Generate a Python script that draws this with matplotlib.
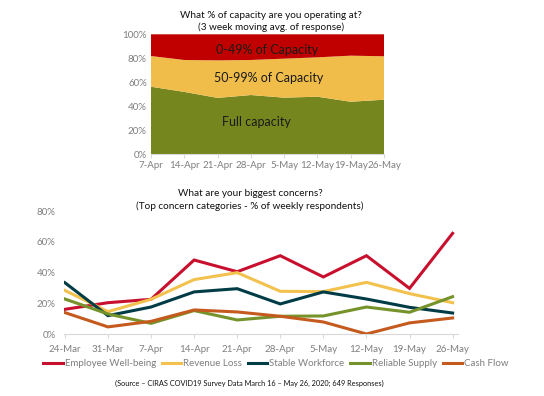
import matplotlib
matplotlib.use("Agg")
import matplotlib.pyplot as plt
from matplotlib.ticker import PercentFormatter
from matplotlib.lines import Line2D

plt.rcParams['font.family'] = ['Lato', 'DejaVu Sans']

# ---- Top chart data ----
cap_dates = ["7-Apr", "14-Apr", "21-Apr", "28-Apr", "5-May", "12-May", "19-May", "26-May"]
full_capacity = [56.3, 52.0, 47.0, 49.4, 47.2, 48.0, 43.8, 45.5]
cap_50_99 = [25.6, 26.6, 31.3, 29.2, 32.5, 32.8, 38.4, 36.2]
cap_0_49 = [18.1, 21.4, 21.7, 21.4, 20.3, 19.2, 17.8, 18.3]

# ---- Bottom chart data ----
concern_dates = ["24-Mar", "31-Mar", "7-Apr", "14-Apr", "21-Apr", "28-Apr", "5-May", "12-May", "19-May", "26-May"]
employee_wellbeing = [16.2, 20.5, 22.7, 48.2, 40.6, 51.0, 37.2, 51.0, 29.8, 65.5]
revenue_loss = [28.5, 14.7, 22.7, 35.5, 40.0, 27.9, 27.7, 33.7, 26.4, 20.5]
stable_workforce = [33.5, 12.1, 17.7, 27.5, 29.6, 19.7, 27.5, 22.9, 17.5, 13.8]
reliable_supply = [22.9, 13.2, 7.1, 15.4, 9.3, 11.7, 11.9, 17.7, 14.3, 24.4]
cash_flow = [14.1, 4.8, 8.4, 15.8, 14.5, 11.7, 8.0, 0.2, 7.4, 10.6]
series_names = ["Employee Well-being", "Revenue Loss", "Stable Workforce", "Reliable Supply", "Cash Flow"]

W, H = 544, 396
fig = plt.figure(figsize=(W / 100, H / 100), dpi=100)

tick_color = "#7f7f7f"
axis_color = "#d9d9d9"

# Top axes
ax1 = fig.add_axes([151 / W, 1 - 154.3 / H, (384 - 151) / W, (154.3 - 34.3) / H])
x1 = list(range(len(cap_dates)))
ax1.stackplot(x1, full_capacity, cap_50_99, cap_0_49,
              colors=["#76861f", "#f0bd4b", "#c00000"], linewidth=0)
ax1.set_xlim(0, len(cap_dates) - 1)
ax1.set_ylim(0, 100)
ax1.set_yticks([0, 20, 40, 60, 80, 100])
ax1.yaxis.set_major_formatter(PercentFormatter(decimals=0))
ax1.set_xticks(x1)
ax1.set_xticklabels(cap_dates)
for s in ["top", "right", "left"]:
    ax1.spines[s].set_visible(False)
ax1.spines["bottom"].set_color(axis_color)
ax1.tick_params(axis="y", length=0, labelsize=7, colors=tick_color, pad=3)
ax1.tick_params(axis="x", length=3, labelsize=7, colors=tick_color, color=axis_color, pad=2)
ax1.text(267.5 / W, 1 - 49.5 / H, "0-49% of Capacity", transform=fig.transFigure,
         ha="center", va="center", fontsize=9, color="#1a1a1a")
ax1.text(268.8 / W, 1 - 77.5 / H, "50-99% of Capacity", transform=fig.transFigure,
         ha="center", va="center", fontsize=9, color="#1a1a1a")
ax1.text(256.7 / W, 1 - 121.5 / H, "Full capacity", transform=fig.transFigure,
         ha="center", va="center", fontsize=9, color="#1a1a1a")
fig.text(271 / W, 1 - 15 / H, "What % of capacity are you operating at?",
         ha="center", va="center", fontsize=7.2, color="#111111")
fig.text(271 / W, 1 - 27.5 / H, "(3 week moving avg. of response)",
         ha="center", va="center", fontsize=7.2, color="#111111")

# Bottom axes
ax2 = fig.add_axes([64 / W, 1 - 334.3 / H, (458.2 - 64) / W, (334.3 - 211) / H])
x2 = list(range(len(concern_dates)))
colors = ["#c8102e", "#f2c14e", "#003c46", "#76922a", "#c55a1f"]
data = [employee_wellbeing, revenue_loss, stable_workforce, reliable_supply, cash_flow]
for vals, c, name in zip(data, colors, series_names):
    ax2.plot(x2, vals, color=c, linewidth=2.2, label=name, solid_joinstyle="miter")
ax2.set_xlim(-0.02, 9.13)
ax2.set_ylim(0, 80)
ax2.set_yticks([0, 20, 40, 60, 80])
ax2.yaxis.set_major_formatter(PercentFormatter(decimals=0))
ax2.set_xticks(x2)
ax2.set_xticklabels(concern_dates)
for s in ["top", "right", "left"]:
    ax2.spines[s].set_visible(False)
ax2.spines["bottom"].set_color(axis_color)
ax2.tick_params(axis="y", length=0, labelsize=7, colors=tick_color, pad=6)
ax2.tick_params(axis="x", length=3, labelsize=7, colors=tick_color, color=axis_color, pad=5)
fig.text(250 / W, 1 - 193.5 / H, "What are your biggest concerns?",
         ha="center", va="center", fontsize=7.2, color="#111111")
fig.text(250 / W, 1 - 206 / H, "(Top concern categories - % of weekly respondents)",
         ha="center", va="center", fontsize=7.2, color="#111111")

handles = [Line2D([0], [0], color=c, linewidth=2.2) for c in colors]
leg = fig.legend(handles, series_names, loc="center", bbox_to_anchor=(276 / W, 1 - 364 / H),
                 ncol=5, frameon=False, fontsize=7, handlelength=2.0, handletextpad=0.2,
                 columnspacing=0.6, labelcolor=tick_color)

fig.text(249 / W, 1 - 383 / H, "(Source \u2013 CIRAS COVID19 Survey Data March 16 \u2013 May 26, 2020; 649 Responses)",
         ha="center", va="center", fontsize=5.3, color="#111111")

fig.savefig("out.png", dpi=100)
